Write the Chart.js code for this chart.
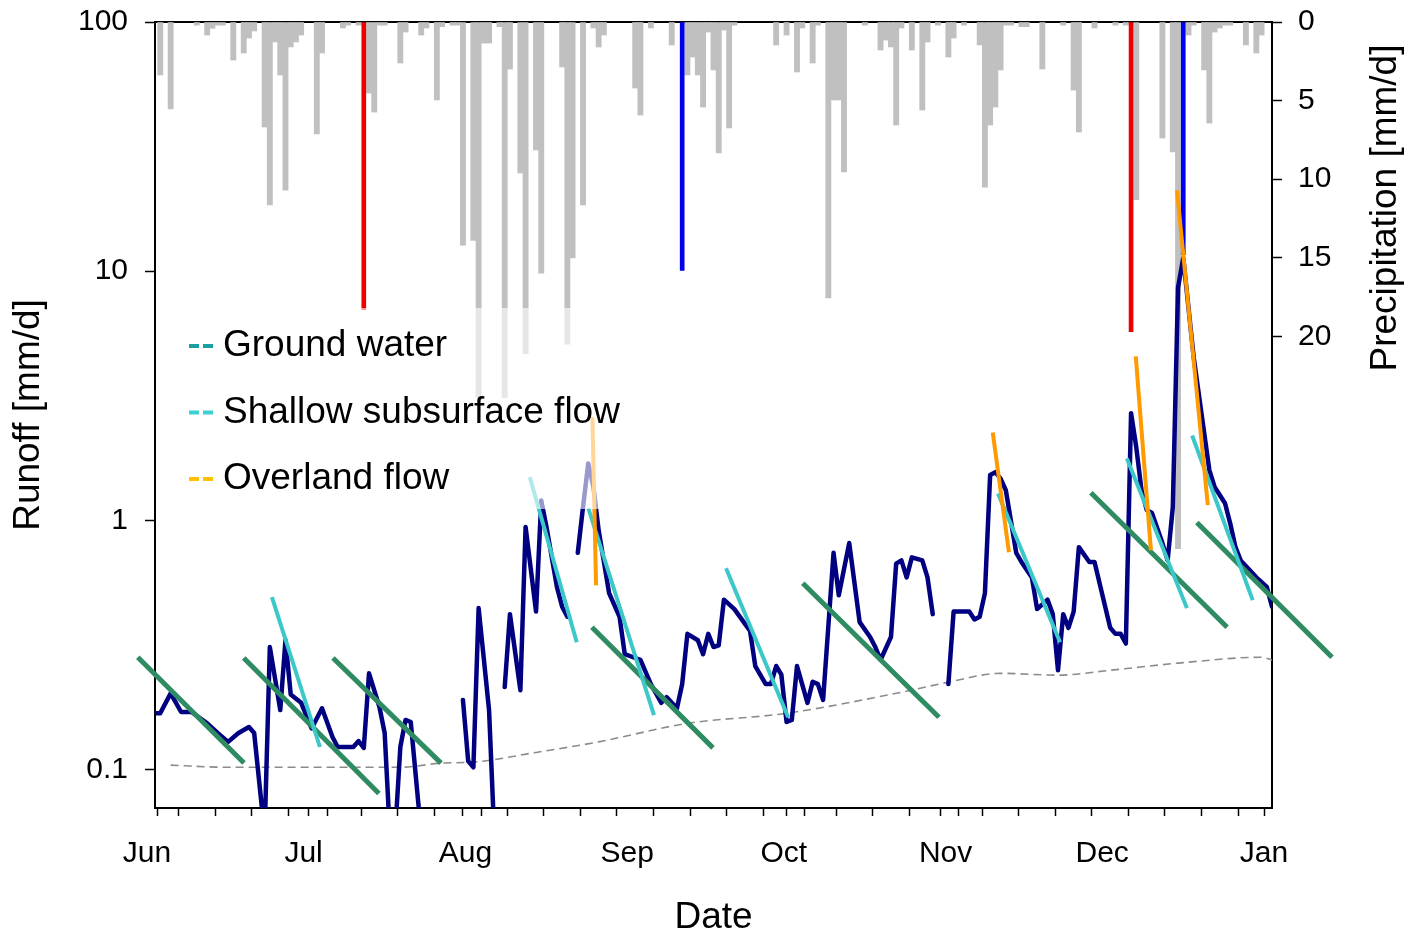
<!DOCTYPE html>
<html>
<head>
<meta charset="utf-8">
<script src="https://cdn.jsdelivr.net/npm/chart.js@4.4.1/dist/chart.umd.min.js"></script>
<style>
  html, body { margin: 0; padding: 0; background: #fff; }
  #wrap { width: 1408px; height: 937px; }
</style>
</head>
<body>
<div id="wrap"><canvas id="c" width="1408" height="937"></canvas></div>
<script>
// ---------- DATA (day 0 = 1 June) ----------
const monthDays   = [0, 30, 61, 92, 122, 153, 183, 214];
const monthLabels = ['Jun', 'Jul', 'Aug', 'Sep', 'Oct', 'Nov', 'Dec', 'Jan'];
const weekDays    = [1, 8, 15, 22, 29, 36, 43, 50, 57, 64, 71, 78, 85, 92, 99, 106, 113, 120, 127, 134, 141, 148, 155, 162, 169, 176, 183, 190, 197, 204, 211];
const runoffTicks = [0.1, 1, 10, 100];
const precipTicks = [0, 5, 10, 15, 20];

// daily runoff [mm/d]; null = data gap
const runoffDays = [0, 1, 3, 5, 7, 10, 12, 14, 16, 18, 19, 21, 22, 24, 25, 26, 28, 30, 32, 34, 35, 37, 38, 39, 40, 41, 43, 44, 45, 46, 47, 48, 49, 51,
  53,
  59, 60, 61, 62, 64, 65,
  66,
  67, 68, 70, 71, 73, 74, 75, 77, 78, 79,
  80,
  81, 82, 83, 84, 85, 87, 89, 90, 92, 93, 95, 97, 98, 100, 101, 102, 104, 105, 106, 107, 108, 109, 111, 114, 115, 117, 118, 119, 120, 121, 122, 123, 125, 126, 127, 128, 130, 131, 133, 135, 137, 138, 139, 141, 142, 143, 144, 145, 147, 148, 149,
  150,
  152, 153, 156, 157, 158, 159, 160, 161, 162, 163, 165, 166, 168, 169, 171, 172, 173, 174, 175, 176, 177, 179, 180, 183, 184, 185, 186, 187, 188, 189, 190, 191, 193, 194, 195, 196, 197, 199, 202, 203, 205, 206, 207, 208, 211, 213, 214];
const runoffValues = [0.168, 0.168, 0.202, 0.170, 0.170, 0.153, 0.140, 0.129, 0.140, 0.148, 0.140, 0.055, 0.31, 0.173, 0.33, 0.20, 0.185, 0.146, 0.176, 0.135, 0.123, 0.123, 0.123, 0.130, 0.122, 0.243, 0.178, 0.140, 0.055, 0.055, 0.123, 0.158, 0.155, 0.055,
  null,
  0.19, 0.108, 0.102, 0.444, 0.173, 0.055,
  null,
  0.214, 0.42, 0.208, 0.94, 0.43, 1.2, 0.94, 0.54, 0.45, 0.41,
  null,
  0.74, 1.13, 1.69, 1.36, 0.91, 0.51, 0.41, 0.29, 0.28, 0.275, 0.22, 0.185, 0.195, 0.176, 0.22, 0.35, 0.33, 0.29, 0.35, 0.31, 0.315, 0.48, 0.44, 0.36, 0.26, 0.22, 0.22, 0.26, 0.24, 0.155, 0.158, 0.26, 0.185, 0.225, 0.22, 0.19, 0.74, 0.50, 0.81, 0.39, 0.34, 0.31, 0.275, 0.34, 0.67, 0.69, 0.59, 0.71, 0.69, 0.59, 0.42,
  null,
  0.22, 0.43, 0.43, 0.40, 0.41, 0.51, 1.52, 1.56, 1.47, 1.32, 0.74, 0.68, 0.59, 0.44, 0.48, 0.42, 0.25, 0.42, 0.37, 0.43, 0.78, 0.68, 0.68, 0.37, 0.35, 0.35, 0.32, 2.69, 1.96, 1.32, 1.10, 1.07, 0.81, 0.69, 1.13, 8.6, 11.3, 4.5, 1.59, 1.36, 1.17, 0.97, 0.78, 0.69, 0.59, 0.54, 0.45];

// daily precipitation [mm/d]
const precipDays = [1, 3, 8, 10, 11, 12, 13, 15, 17, 18, 19, 21, 22, 23, 24, 25, 26, 27, 28, 31, 32, 36, 37, 39, 41, 42, 43, 44, 47, 48, 51, 52, 54, 55, 57, 58, 59, 61, 62, 63, 64, 66, 67, 68, 70, 71, 73, 74, 78, 79, 80, 82, 84, 85, 86, 92, 93, 95, 99, 102, 103, 104, 105, 106, 107, 108, 109, 110, 111, 119, 121, 123, 124, 126, 127, 129, 130, 131, 132, 136, 139, 140, 141, 142, 143, 145, 147, 148, 150, 152, 153, 155, 158, 159, 160, 161, 162, 163, 164, 166, 167, 170, 174, 176, 177, 180, 184, 186, 188, 193, 195, 196, 198, 199, 201, 202, 203, 204, 205, 206, 209, 211, 212];
const precipValues = [3.37, 5.53, 0.2, 0.83, 0.4, 0.2, 0.2, 2.42, 1.97, 1.02, 0.57, 6.68, 11.64, 1.27, 3.37, 10.69, 1.59, 1.27, 0.83, 7.12, 1.97, 0.38, 0.2, 0.2, 4.52, 5.73, 0.2, 0.2, 2.61, 0.64, 0.83, 0.38, 4.96, 0.3, 0.2, 0.2, 14.2, 13.9, 23.9, 1.34, 1.34, 0.3, 23.9, 2.99, 9.6, 21.1, 8.14, 15.97, 2.86, 20.5, 15.0, 11.64, 0.38, 1.59, 0.83, 4.2, 5.92, 0.38, 1.46, 3.37, 2.23, 3.37, 5.41, 0.64, 3.05, 8.33, 0.51, 6.74, 0.2, 1.46, 0.83, 3.18, 0.38, 2.61, 0.2, 17.56, 4.96, 4.96, 9.54, 0.2, 1.78, 1.15, 1.59, 6.55, 0.38, 1.78, 5.6, 1.27, 0.2, 2.23, 1.02, 0.2, 1.46, 10.5, 6.55, 5.41, 3.05, 0.2, 0.2, 0.3, 0.3, 2.99, 0.2, 4.33, 7.0, 0.38, 0.2, 0.2, 11.3, 7.38, 8.27, 33.5, 0.83, 0.2, 3.05, 6.43, 0.64, 0.38, 0.2, 0.2, 1.46, 1.97, 0.83];

// highlighted events
const redEventDays   = [40, 187];
const redEventValues = [18.3, 19.7];
const blueEventDays   = [101, 197];
const blueEventValues = [15.8, 14.8];

// base flow curve (grey dashed)
const baseDays   = [3, 14, 30, 47, 55, 61, 73, 85, 102, 121, 143, 152, 162, 173, 183, 196, 212, 214];
const baseValues = [0.104, 0.102, 0.102, 0.102, 0.106, 0.107, 0.117, 0.129, 0.153, 0.168, 0.204, 0.224, 0.243, 0.239, 0.250, 0.267, 0.282, 0.275];

// recession lines [start, end]
const groundDays   = [[-3.3, 17.05], [17.0, 42.9], [34.1, 54.8], [83.7, 106.9], [124.1, 150.2], [179.3, 205.4], [199.6, 225.5]];
const groundValues = [[0.282, 0.106], [0.28, 0.080], [0.28, 0.106], [0.372, 0.122], [0.559, 0.162], [1.29, 0.372], [0.98, 0.282]];
const shallowDays   = [[22.4, 31.6], [71.8, 80.8], [83.0, 95.6], [109.4, 121.3], [161.5, 173.4], [186.2, 197.7], [198.7, 210.3]];
const shallowValues = [[0.491, 0.123], [1.49, 0.324], [1.12, 0.165], [0.642, 0.162], [1.28, 0.324], [1.77, 0.444], [2.19, 0.478]];
const overlandDays   = [[83.8, 84.5], [160.5, 163.6], [187.9, 190.8], [195.8, 201.7]];
const overlandValues = [[2.59, 0.548], [2.25, 0.744], [4.55, 0.758], [21.1, 1.15]];

const legendLabels = ['Ground water', 'Shallow subsurface flow', 'Overland flow'];

// ---------- BUILD ----------
const FONT = '"Liberation Sans", Arial, Helvetica, sans-serif';
Chart.defaults.font.family = FONT;
Chart.defaults.color = '#000';

const pts = (days, vals) => days.map((d, i) => ({ x: d, y: vals[i] }));
function segs(days, vals) {
  const out = [];
  days.forEach((p, i) => {
    out.push({ x: p[0], y: vals[i][0] }, { x: p[1], y: vals[i][1] }, { x: p[1], y: null });
  });
  return out;
}
function zeroPad(s) { s.paddingTop = 0; s.paddingBottom = 0; s.paddingLeft = 0; s.paddingRight = 0; }

const legendColors = ['#1aa0a0', '#3cd0d0', '#ffc000'];

const overlayLegend = {
  id: 'overlayLegend',
  afterDatasetsDraw(chart) {
    const { ctx, chartArea: ca } = chart;
    ctx.save();
    ctx.fillStyle = 'rgba(255,255,255,0.6)';
    ctx.fillRect(ca.left + 25, ca.top + 286, 450, 201);
    ctx.font = '37px ' + FONT;
    ctx.textBaseline = 'middle';
    ctx.textAlign = 'left';
    legendLabels.forEach((t, i) => {
      const y = ca.top + 324 + i * 66.5;
      ctx.fillStyle = legendColors[i];
      ctx.fillRect(ca.left + 34, y - 2, 10, 4);
      ctx.fillRect(ca.left + 48, y - 2, 10, 4);
      ctx.fillStyle = '#000';
      ctx.fillText(t, ca.left + 68, y);
    });
    ctx.restore();
  },
  afterDraw(chart) {
    const { ctx } = chart;
    const s = chart.scales.y2;
    ctx.save();
    ctx.translate(s.right - 22, chart.chartArea.top + 186);
    ctx.rotate(-Math.PI / 2);
    ctx.font = '37px ' + FONT;
    ctx.textAlign = 'center';
    ctx.textBaseline = 'middle';
    ctx.fillStyle = '#000';
    ctx.fillText('Precipitation [mm/d]', 0, 0);
    ctx.restore();
  }
};

const tickFont = { size: 30, family: FONT };

new Chart(document.getElementById('c'), {
  type: 'line',
  data: {
    datasets: [
      { type: 'bar', label: 'Precipitation', data: pts(precipDays, precipValues), yAxisID: 'y2', xAxisID: 'x',
        backgroundColor: '#c0c0c0', borderWidth: 0, barPercentage: 1, categoryPercentage: 1, grouped: false, order: 8 },
      { type: 'bar', label: 'red', data: pts(redEventDays, redEventValues), yAxisID: 'y2', xAxisID: 'x',
        backgroundColor: '#ee0000', borderWidth: 0, barThickness: 4, grouped: false, order: 7 },
      { type: 'bar', label: 'blue', data: pts(blueEventDays, blueEventValues), yAxisID: 'y2', xAxisID: 'x',
        backgroundColor: '#0000ee', borderWidth: 0, barThickness: 4, grouped: false, order: 7 },
      { label: 'Base', data: pts(baseDays, baseValues), yAxisID: 'y', borderColor: '#8c8c8c', borderWidth: 1.6,
        borderDash: [8, 5], pointRadius: 0, cubicInterpolationMode: 'monotone', fill: false, order: 6 },
      { label: 'Runoff', data: pts(runoffDays, runoffValues), yAxisID: 'y', borderColor: '#000080', borderWidth: 4.5,
        pointRadius: 0, tension: 0, spanGaps: false, borderJoinStyle: 'round', borderCapStyle: 'round', fill: false, order: 5 },
      { label: 'Ground water', data: segs(groundDays, groundValues), yAxisID: 'y', borderColor: '#2e8b62', borderWidth: 5,
        pointRadius: 0, spanGaps: false, fill: false, clip: false, order: 4 },
      { label: 'Shallow subsurface flow', data: segs(shallowDays, shallowValues), yAxisID: 'y', borderColor: '#3cc8c8', borderWidth: 4,
        pointRadius: 0, spanGaps: false, fill: false, order: 3 },
      { label: 'Overland flow', data: segs(overlandDays, overlandValues), yAxisID: 'y', borderColor: '#ff9a00', borderWidth: 4,
        pointRadius: 0, spanGaps: false, fill: false, order: 2 }
    ]
  },
  options: {
    responsive: false,
    animation: false,
    devicePixelRatio: 1,
    layout: { padding: { top: 22, left: 0, right: 0, bottom: 0 }, autoPadding: false },
    plugins: { legend: { display: false }, tooltip: { enabled: false } },
    scales: {
      x: {
        type: 'linear', position: 'bottom', min: 0, max: 214, offset: false,
        afterBuildTicks: (s) => { s.ticks = [...new Set([...monthDays, ...weekDays])].sort((a, b) => a - b).map(v => ({ value: v })); },
        ticks: { autoSkip: false, maxRotation: 0, minRotation: 0, font: tickFont, color: '#000', padding: 20, labelOffset: -8,
          callback: (v) => { const i = monthDays.indexOf(v); return i >= 0 ? monthLabels[i] : ''; } },
        grid: { display: true, drawOnChartArea: false, drawTicks: true, tickLength: 8, tickColor: '#000', tickWidth: 1.5 },
        border: { display: true, color: '#000', width: 2 },
        title: { display: true, text: 'Date', font: { size: 37, family: FONT, lineHeight: 1 }, color: '#000', padding: { top: 0, bottom: 1 } },
        afterFit: (s) => { s.height = 129; zeroPad(s); }
      },
      xTop: {
        type: 'linear', position: 'top', min: 0, max: 214, display: true,
        ticks: { display: false }, grid: { display: false, drawTicks: false },
        border: { display: true, color: '#000', width: 2 },
        afterFit: (s) => { s.height = 0; zeroPad(s); }
      },
      y: {
        type: 'logarithmic', position: 'left', min: 0.07, max: 100,
        afterBuildTicks: (s) => { s.ticks = runoffTicks.map(v => ({ value: v })); },
        ticks: { autoSkip: false, font: tickFont, color: '#000', padding: 17, callback: (v) => String(v) },
        grid: { display: true, drawOnChartArea: false, drawTicks: true, tickLength: 10, tickColor: '#000', tickWidth: 1.5 },
        border: { display: true, color: '#000', width: 2 },
        title: { display: true, text: 'Runoff [mm/d]', font: { size: 37, family: FONT, lineHeight: 1 }, color: '#000', padding: { top: 10, bottom: 0 } },
        afterFit: (s) => { s.width = 155; zeroPad(s); }
      },
      y2: {
        type: 'linear', position: 'right', reverse: true, min: 0, max: 50,
        afterBuildTicks: (s) => { s.ticks = precipTicks.map(v => ({ value: v })); },
        ticks: { autoSkip: false, font: tickFont, color: '#000', padding: 16 },
        grid: { display: true, drawOnChartArea: false, drawTicks: true, tickLength: 10, tickColor: '#000', tickWidth: 1.5 },
        border: { display: true, color: '#000', width: 2 },
        afterFit: (s) => { s.width = 136; zeroPad(s); }
      }
    }
  },
  plugins: [overlayLegend]
});
</script>
</body>
</html>
